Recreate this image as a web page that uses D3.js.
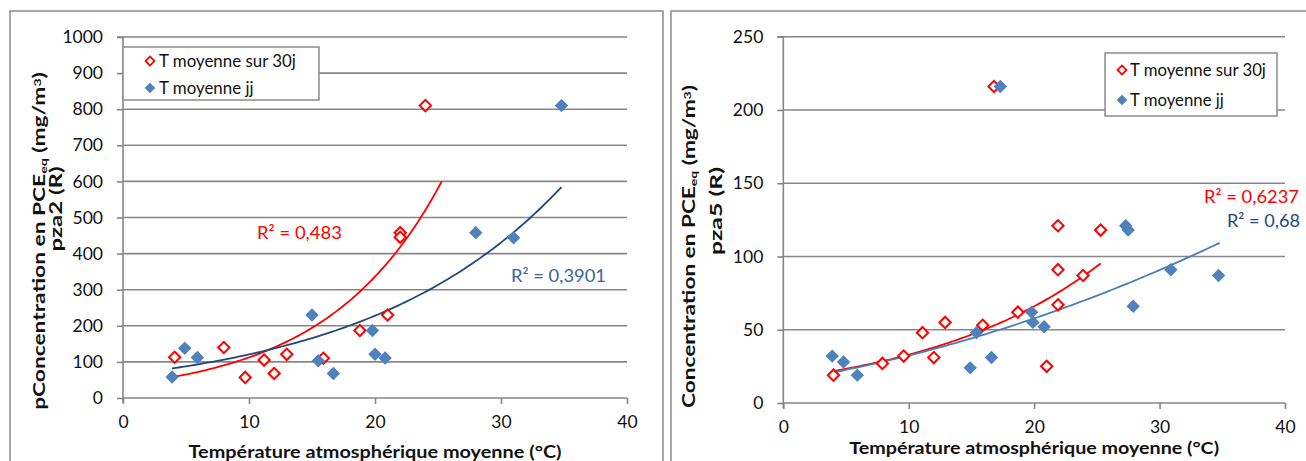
<!DOCTYPE html>
<html><head><meta charset="utf-8">
<script src="https://cdn.jsdelivr.net/npm/d3@7"></script>
<style>
html,body{margin:0;padding:0;background:#fff;}
svg{display:block;font-family:Lato,"Open Sans",sans-serif;}
</style></head>
<body><svg id="c" width="1306" height="461"></svg>
<script>
// ---------- data ----------
const xTicks = [0, 10, 20, 30, 40];
const leftYTicks = [0,100,200,300,400,500,600,700,800,900,1000];
const rightYTicks = [0,50,100,150,200,250];
const seriesNames = ["T moyenne sur 30j", "T moyenne jj"];

const leftRedX  = [4.1, 8.0, 9.7, 11.2, 12.0, 13.0, 15.9, 18.8, 21.0, 22.0, 22.0, 24.0];
const leftRedY  = [113, 140, 57, 105, 68, 121, 110, 187, 230, 458, 445, 810];
const leftBlueX = [3.9, 4.9, 5.9, 15.0, 15.5, 16.7, 19.8, 20.0, 20.8, 28.0, 31.0, 34.8];
const leftBlueY = [58, 138, 112, 230, 103, 68, 187, 121, 111, 458, 444, 810];

const rightRedX  = [4.0, 7.9, 9.6, 11.1, 12.0, 12.9, 15.9, 16.8, 18.7, 21.0, 21.9, 21.9, 21.9, 23.9, 25.3];
const rightRedY  = [19, 27, 32, 48, 31, 55, 53, 216, 62, 25, 121, 91, 67, 87, 118];
const rightBlueX = [3.9, 4.8, 5.9, 14.9, 15.4, 16.6, 17.3, 19.8, 19.9, 20.8, 27.3, 27.5, 27.9, 30.9, 34.7];
const rightBlueY = [32, 28, 19, 24, 48, 31, 216, 62, 55, 52, 121, 118, 66, 91, 87];

// trendlines: [type, coefficients..., xStart, xEnd]
const leftRedTrend   = ["exp", 37.6, 0.1095, 4.1, 25.3];
const leftBlueTrend  = ["exp", 63.9, 0.0636, 3.9, 34.8];
const rightRedTrend  = ["exp", 16.5, 0.0693, 4.0, 25.3];
const rightBluePoly  = ["poly", 14.8, 1.376, 0.0385, 3.9, 34.8];

const leftR2  = ["R² = 0,483", "R² = 0,3901"];
const rightR2 = ["R² = 0,6237", "R² = 0,68"];
const xTitle = "Température atmosphérique moyenne (°C)";

// ---------- drawing ----------
const svg = d3.select("#c");
svg.append("rect").attr("width",1306).attr("height",461).attr("fill","#fff");
const GRID = "#878787", RED = "#FF0000", BLUE = "#4F81BD";

function trendFn(t){
  if (t[0]==="exp") return x => t[1]*Math.exp(t[2]*x);
  return x => t[1] + t[2]*x + t[3]*x*x;
}
function trendRange(t){ return t[0]==="exp" ? [t[3],t[4]] : [t[4],t[5]]; }

// place a text at (px,py) with optional rotation, stretched along its run to a target width
function place(sel, px, py, rot, target){
  const w = sel.node().getComputedTextLength();
  const s = (target && w > 0) ? target / w : 1;
  sel.attr("x",0).attr("y",0)
     .attr("transform",`translate(${px},${py})${rot ? ` rotate(${rot})` : ""} scale(${s.toFixed(4)},1)`);
  return sel;
}

function chart(cfg){
  const g = svg.append("g");
  g.append("rect").attr("x",cfg.frame[0]).attr("y",cfg.frame[1])
   .attr("width",cfg.frame[2]).attr("height",cfg.frame[3])
   .attr("fill","#fff").attr("stroke","#8c8c8c").attr("stroke-width",1.5);

  const x = d3.scaleLinear().domain([0,40]).range([cfg.px0, cfg.px1]);
  const y = d3.scaleLinear().domain([0,cfg.ymax]).range([cfg.pyBot, cfg.pyTop]);

  g.append("g").selectAll("line").data(cfg.yTicks.slice(1)).join("line")
   .attr("x1",cfg.px0).attr("x2",cfg.px1).attr("y1",d=>y(d)).attr("y2",d=>y(d))
   .attr("stroke",GRID).attr("stroke-width",1.6);

  const ya = g.append("g").attr("transform",`translate(${cfg.px0},0)`)
    .call(d3.axisLeft(y).tickValues(cfg.yTicks).tickSize(6).tickPadding(14).tickFormat(d3.format("d")));
  ya.select(".domain").attr("stroke",GRID).attr("stroke-width",1.6).attr("d",`M-6,${y(cfg.ymax)}H0V${cfg.pyBot+5}`);
  ya.selectAll(".tick line").attr("stroke",GRID).attr("stroke-width",1.6);
  ya.selectAll("text").attr("font-size",17.5).attr("fill","#111").attr("font-family","Lato");

  const xa = g.append("g").attr("transform",`translate(0,${cfg.pyBot})`)
    .call(d3.axisBottom(x).tickValues(xTicks).tickSize(6).tickPadding(12));
  xa.select(".domain").attr("stroke",GRID).attr("stroke-width",1.6).attr("d",`M${cfg.px0},0H${cfg.px1}`);
  xa.selectAll(".tick line").attr("stroke",GRID).attr("stroke-width",1.6);
  xa.selectAll("text").attr("font-size",17.5).attr("fill","#111").attr("font-family","Lato");

  const line = d3.line().x(d=>x(d[0])).y(d=>y(d[1]));
  cfg.trends.forEach(tr=>{
    const f = trendFn(tr.t), r = trendRange(tr.t);
    const pts = d3.range(0,101).map(i=>{const xv=r[0]+(r[1]-r[0])*i/100; return [xv,f(xv)];});
    g.append("path").attr("d",line(pts)).attr("fill","none").attr("stroke",tr.color).attr("stroke-width",1.8);
  });

  const dia = d3.symbol(d3.symbolSquare, 64);
  const diaF = d3.symbol(d3.symbolSquare, 90);
  g.append("g").selectAll("path").data(d3.zip(cfg.redX,cfg.redY)).join("path")
   .attr("d",dia).attr("transform",d=>`translate(${x(d[0])},${y(d[1])}) rotate(45)`)
   .attr("fill","#fff").attr("stroke",RED).attr("stroke-width",2);
  g.append("g").selectAll("path").data(d3.zip(cfg.blueX,cfg.blueY)).join("path")
   .attr("d",diaF).attr("transform",d=>`translate(${x(d[0])},${y(d[1])}) rotate(45)`)
   .attr("fill",BLUE);

  cfg.r2.forEach(l=>{
    const t = g.append("text").attr("font-size",17.5).attr("fill",l.color).text(l.text);
    place(t, l.x, l.y, 0, l.w);
  });

  const L = cfg.legend;
  g.append("rect").attr("x",L.x).attr("y",L.y).attr("width",L.w).attr("height",L.h)
   .attr("fill","#fff").attr("stroke","#8c8c8c").attr("stroke-width",1.5);
  let legScale = null;
  seriesNames.forEach((n,i)=>{
    const cy = L.rows[i];
    g.append("path").attr("d", i===0 ? d3.symbol(d3.symbolSquare,40)() : d3.symbol(d3.symbolSquare,56)())
     .attr("transform",`translate(${L.mx},${cy}) rotate(45)`)
     .attr("fill", i===0 ? "#fff" : BLUE).attr("stroke", i===0 ? RED : "none").attr("stroke-width",1.8);
    const t = g.append("text").attr("dy","0.36em").attr("font-size",16.5).attr("fill","#111").text(n);
    if (i===0) { legScale = L.tw / t.node().getComputedTextLength(); }
    place(t, L.tx, cy, 0, t.node().getComputedTextLength()*legScale);
  });

  const xt = g.append("text").attr("text-anchor","middle")
   .attr("font-weight","bold").attr("font-size",16.5).attr("fill","#111").text(xTitle);
  place(xt, (cfg.px0+cfg.px1)/2, cfg.xTitleY, 0, cfg.xTitleW);

  const t1 = g.append("text").attr("text-anchor","middle").attr("font-weight","bold")
   .attr("font-size",16.5).attr("fill","#111");
  t1.append("tspan").text(cfg.yTitlePrefix + "Concentration en PCE");
  t1.append("tspan").attr("dy","0.15em").attr("font-size","0.62em").text("eq");
  t1.append("tspan").attr("dy","-0.09em").text(" (mg/m");
  t1.append("tspan").attr("dy","-0.4em").attr("font-size","0.62em").text("3");
  t1.append("tspan").attr("dy","0.25em").text(")");
  place(t1, cfg.yt1[0], cfg.yt1[1], -90, cfg.yt1W);
  const t2 = g.append("text").attr("text-anchor","middle").attr("font-weight","bold")
   .attr("font-size",16.5).attr("fill","#111").text(cfg.yTitle2);
  place(t2, cfg.yt2[0], cfg.yt2[1], -90, cfg.yt2W);
}

chart({
  frame:[10,11,653,470], px0:123, px1:627, pyTop:37, pyBot:398, ymax:1000, yTicks:leftYTicks,
  redX:leftRedX, redY:leftRedY, blueX:leftBlueX, blueY:leftBlueY,
  trends:[{t:leftRedTrend,color:RED},{t:leftBlueTrend,color:"#1F497D"}],
  r2:[{text:leftR2[0],x:257,y:239,w:85,color:RED},{text:leftR2[1],x:511,y:281.5,w:95,color:"#3A64A0"}],
  legend:{x:123,y:47,w:196,h:53,mx:150,tx:159,tw:137,rows:[61,88]},
  xTitleY:458, xTitleW:373, yt1:[45,241], yt1W:338, yt2:[62,209], yt2W:85, yTitlePrefix:"p", yTitle2:"pza2 (R)"
});
chart({
  frame:[671,11,650,470], px0:783.3, px1:1285, pyTop:36.7, pyBot:403, ymax:250, yTicks:rightYTicks,
  redX:rightRedX, redY:rightRedY, blueX:rightBlueX, blueY:rightBlueY,
  trends:[{t:rightRedTrend,color:RED},{t:rightBluePoly,color:"#4A7EBB"}],
  r2:[{text:rightR2[0],x:1204,y:203,w:95,color:RED},{text:rightR2[1],x:1227,y:226.5,w:73,color:"#1F497D"}],
  legend:{x:1105,y:53,w:172,h:63,mx:1122,tx:1130,tw:136,rows:[70,100]},
  xTitleY:454, xTitleW:370, yt1:[695,246.5], yt1W:323, yt2:[722,211], yt2W:88, yTitlePrefix:"", yTitle2:"pza5 (R)"
});
</script></body></html>
